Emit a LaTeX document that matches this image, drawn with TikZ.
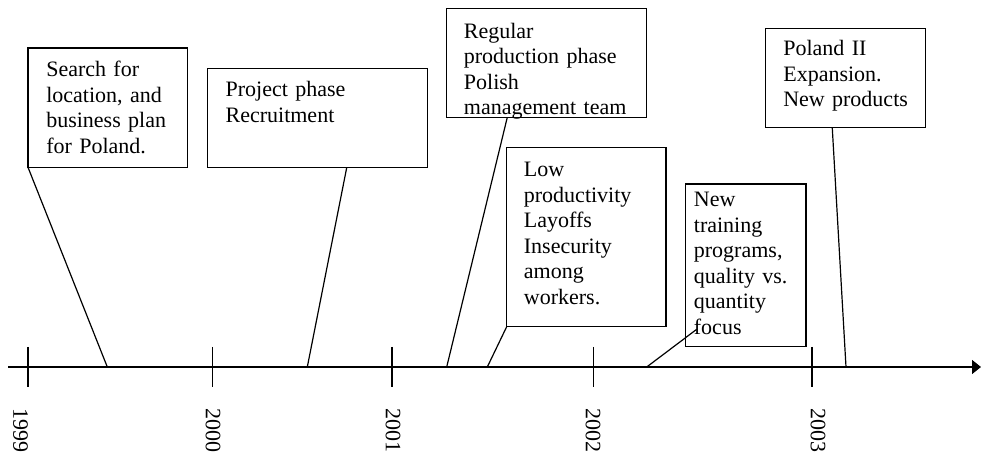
\documentclass[tikz,border=0pt]{standalone}
\usepackage{fontspec}
\setmainfont{Liberation Serif}
\usetikzlibrary{arrows.meta,calc}
\begin{document}
\begin{tikzpicture}[x=1bp,y=-1bp,
  every path/.style={line width=1.2bp},
  frame/.style={draw, fill=white, line width=1.2bp, inner sep=0pt, outer sep=0pt, anchor=north west},
  txt/.style={anchor=base west, text width=230bp, align=left, inner sep=0pt,
              font=\fontsize{22bp}{25.5bp}\selectfont},
  year/.style={rotate=-90, anchor=west, inner sep=0pt, font=\fontsize{22bp}{25.5bp}\selectfont},
  lead/.style={line width=1.2bp},
  tick/.style={line width=1.2bp}]
\useasboundingbox (0,0) rectangle (981,455);

% time axis
\coordinate (axL) at (8,367);
\coordinate (axR) at (981,367);
\draw[-{Triangle[length=9bp,width=14bp]}] (axL) -- (axR);

% year ticks
\foreach \n/\x in {1999/28,2000/212.7,2001/392,2002/593.3,2003/812}{
  \coordinate (tk\n a) at (\x,347);
  \coordinate (tk\n b) at (\x,387);
  \draw[tick] (tk\n a) -- (tk\n b);
}

% year labels
\node[year] (y1999) at (20.5,408) {1999};
\node[year] (y2000) at (213,408) {2000};
\node[year] (y2001) at (393,408) {2001};
\node[year] (y2002) at (593,408) {2002};
\node[year] (y2003) at (818,408) {2003};

% event boxes
\node[frame, minimum width=159.7bp, minimum height=119.3bp] (b1) at (28,48) {};
\node[frame, minimum width=220.4bp, minimum height=99.4bp] (b2) at (207.3,68.3) {};
\node[frame, minimum width=200bp, minimum height=109bp] (b3) at (446.7,8.3) {};
\node[frame, minimum width=159.3bp, minimum height=179.4bp] (b4) at (506.7,147.3) {};
\node[frame, minimum width=120.3bp, minimum height=162.7bp] (b5) at (685.7,184) {};
\node[frame, minimum width=160bp, minimum height=99.4bp] (b6) at (765.7,28.3) {};

% box texts
\node[txt] (t1) at (45.7,76.7) {Search for\\location, and\\business plan\\for Poland.};
\node[txt] (t2) at (225,96.7) {Project phase\\Recruitment};
\node[txt] (t3) at (463.3,38.3) {Regular\\production phase\\Polish\\management team};
\node[txt] (t4) at (523.3,176.7) {Low\\productivity\\Layoffs\\Insecurity\\among\\workers.};
\node[txt] (t5) at (693.3,206.7) {New\\training\\programs,\\quality vs.\\quantity\\focus};
\node[txt] (t6) at (782.7,56) {Poland II\\Expansion.\\New products};

% points on the axis where the leaders land
\coordinate (e1) at (107.3,367);
\coordinate (e2) at (307.3,367);
\coordinate (e3) at (446.7,367);
\coordinate (e4) at (487.3,367);
\coordinate (e5) at (646.7,367);
\coordinate (e6) at (846,367);
\coordinate (p5) at (696.7,329.3);

% leaders from boxes to the axis
\draw[lead] (b1.south west) -- (e1);
\draw[lead] ($(b2.south west)!0.6325!(b2.south east)$) -- (e2);
\draw[lead] ($(b3.south west)!0.303!(b3.south east)$) -- (e3);
\draw[lead] (b4.south west) -- (e4);
\draw[lead] (e5) -- (p5);
\draw[lead] ($(b6.south west)!0.416!(b6.south east)$) -- (e6);
\end{tikzpicture}
\end{document}
